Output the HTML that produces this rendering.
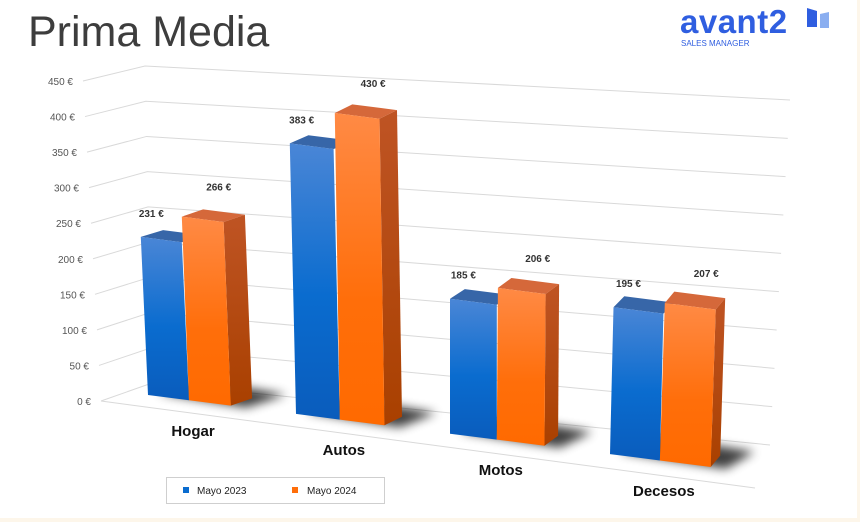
<!DOCTYPE html>
<html><head><meta charset="utf-8"><style>
html,body{margin:0;padding:0;}
body{width:860px;height:522px;background:#fdf6ea;overflow:hidden;font-family:"Liberation Sans",sans-serif;}
#card{position:absolute;left:0;top:0;width:857px;height:518px;background:#fff;}
</style></head><body>
<div id="card">
<svg id="chart" width="860" height="522" viewBox="0 0 860 522" style="position:absolute;left:0;top:0">
<defs>
<linearGradient id="gBlue" x1="0" y1="0" x2="0" y2="1"><stop offset="0" stop-color="#4a86d6"/><stop offset="0.55" stop-color="#0a6ccf"/><stop offset="1" stop-color="#0a5cbc"/></linearGradient>
<linearGradient id="gOrange" x1="0" y1="0" x2="0" y2="1"><stop offset="0" stop-color="#ff8a45"/><stop offset="0.6" stop-color="#ff6e0a"/><stop offset="1" stop-color="#ff6a00"/></linearGradient>
<linearGradient id="gSide" x1="0" y1="0" x2="0" y2="1"><stop offset="0" stop-color="#bf5424"/><stop offset="1" stop-color="#a94000"/></linearGradient>
<filter id="blur" x="-50%" y="-50%" width="200%" height="200%"><feGaussianBlur stdDeviation="5"/></filter>
</defs>
<text x="28" y="46" font-size="43" fill="#3d3d3d">Prima Media</text>
<g>
<text x="680" y="33" font-size="33" font-weight="bold" fill="#2f5ee0" letter-spacing="0.5">avant2</text>
<text x="681" y="46" font-size="8" fill="#2f5ee0">SALES MANAGER</text>
<polygon points="807,8 817,11 817,27 807,27" fill="#2f5ee0"/>
<polygon points="820,14 829,12 829,28 820,28" fill="#8aaef0"/>
</g>
<g id="grid"></g>
<g id="ylabels"></g>
<g id="bars"></g>
<g id="xlabels"></g>
<g>
<rect x="166.5" y="477.5" width="218" height="26" fill="#fff" stroke="#cfcfcf"/>
<rect x="183" y="487" width="6" height="6" fill="#0a6ccf"/>
<text x="197" y="494" font-size="10" fill="#222">Mayo 2023</text>
<rect x="292" y="487" width="6" height="6" fill="#ff6e0a"/>
<text x="307" y="494" font-size="10" fill="#222">Mayo 2024</text>
</g>
</svg>
</div>
<script>
const categories = ["Hogar","Autos","Motos","Decesos"];
const series2023 = [231,383,185,195];
const series2024 = [266,430,206,207];
const valueLabels2023 = ["231 €","383 €","185 €","195 €"];
const valueLabels2024 = ["266 €","430 €","206 €","207 €"];
const yTicks = [0,50,100,150,200,250,300,350,400,450];
const yTickLabels = ["0 €","50 €","100 €","150 €","200 €","250 €","300 €","350 €","400 €","450 €"];
const yMax = 450;

const NS="http://www.w3.org/2000/svg";
function mk(tag,attrs,parent){const e=document.createElementNS(NS,tag);for(const k in attrs)e.setAttribute(k,attrs[k]);parent.appendChild(e);return e;}
function lerp(a,b,t){return [a[0]+(b[0]-a[0])*t,a[1]+(b[1]-a[1])*t];}
const FLT=[83,81],FLB=[101,401],BLT=[145,66],BLB=[152,383],BRT=[790,100],BRB=[770,445],FRB=[755,488];
const grid=document.getElementById('grid'),yl=document.getElementById('ylabels');
yTicks.forEach((v,i)=>{
  const t=v/yMax;
  const a=lerp(FLB,FLT,t),b=lerp(BLB,BLT,t),c=lerp(BRB,BRT,t);
  const pl=mk('polyline',{points:a.join(',')+' '+b.join(',')+' '+c.join(','),fill:'none',stroke:'#d9d9d9','stroke-width':1},grid);
  
  
  const tx=mk('text',{x:a[0]-10,y:a[1]+4,'font-size':10,fill:'#555','text-anchor':'end'},yl);
  tx.textContent=yTickLabels[i];
  
  
});
const fl=mk('line',{x1:FLB[0],y1:FLB[1],x2:FRB[0],y2:FRB[1],stroke:'#d9d9d9'},grid);



function catX(i){return 148+145*i+3*i*i;}
function floorY(x){return 395+0.128*(x-148);}
function k(x){return 0.662+0.00015*x;}
function faceW(x){return 41+(x-148)*0.0192;}
function depth(x){return [26-0.025*x,-5.5-0.009*x];}
const bars=document.getElementById('bars'),xl=document.getElementById('xlabels');
function pts(a){return a.map(p=>p[0].toFixed(1)+','+p[1].toFixed(1)).join(' ');}
function bar(x0,val,fill,top,side,name,label,ldx,ldy){
  const w=faceW(x0),x1=x0+w,h=val*k(x0);
  const lean=(x0-450)*0.00015*h;
  const BL=[x0,floorY(x0)],BR=[x1,floorY(x1)],TR=[x1+lean,floorY(x1)-h],TL=[x0+lean,floorY(x0)-h];
  const d=depth(x0);
  const add=(p)=>[p[0]+d[0],p[1]+d[1]];
  const g=mk('g',{},bars);
  
  
  mk('polygon',{points:pts([TL,TR,add(TR),add(TL)]),fill:top},g);
  if(side) mk('polygon',{points:pts([TR,BR,add(BR),add(TR)]),fill:side},g);
  mk('polygon',{points:pts([BL,BR,TR,TL]),fill:fill},g);
  const t=mk('text',{x:(TL[0]+TR[0])/2+ldx,y:TL[1]+ldy,'font-size':10,'font-weight':'bold',fill:'#333','text-anchor':'middle'},bars);
  t.textContent=label;
  
  
  return x1;
}
categories.forEach((c,i)=>{
  const x0=catX(i);
  const w=faceW(x0);
  const d=depth(x0);
  const sx=x0+w*2;
  const sh=mk('polygon',{points:pts([[x0+10,floorY(x0)-2],[sx+16,floorY(sx)+2],[sx+d[0]+34,floorY(sx)+d[1]-4],[x0+d[0]+34,floorY(x0)+d[1]-8]]),fill:'#000',opacity:0.75,filter:'url(#blur)'},bars);
  
  
  const x1=bar(x0,series2023[i],'url(#gBlue)','#3766a8',null,'bar-2023-'+c.toLowerCase(),valueLabels2023[i],-10,-20);
  bar(x1,series2024[i],'url(#gOrange)','#d5683a','url(#gSide)','bar-2024-'+c.toLowerCase(),valueLabels2024[i],16,-26);
  const lx=x0+w+4;
  const t=mk('text',{x:lx,y:floorY(lx)+35,'font-size':15,'font-weight':'bold',fill:'#111','text-anchor':'middle'},xl);
  t.textContent=c;
  
  
});
</script>
</body></html>
